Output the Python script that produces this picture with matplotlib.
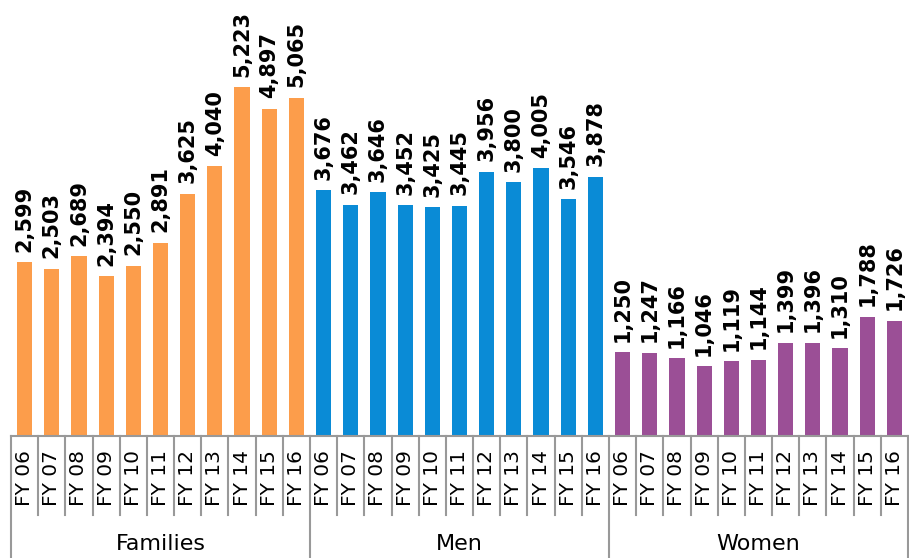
import matplotlib
matplotlib.use("Agg")
import matplotlib.pyplot as plt

groups = ["Families", "Men", "Women"]
years = ["FY 06", "FY 07", "FY 08", "FY 09", "FY 10", "FY 11", "FY 12", "FY 13", "FY 14", "FY 15", "FY 16"]
families = [2599, 2503, 2689, 2394, 2550, 2891, 3625, 4040, 5223, 4897, 5065]
men = [3676, 3462, 3646, 3452, 3425, 3445, 3956, 3800, 4005, 3546, 3878]
women = [1250, 1247, 1166, 1046, 1119, 1144, 1399, 1396, 1310, 1788, 1726]
colors = ["#FC9D4B", "#0A8BD6", "#9B4F96"]

W, H = 909, 558
fig = plt.figure(figsize=(W / 100, H / 100), dpi=100)
base_px = 436
ax = fig.add_axes([11 / W, (H - base_px) / H, 897 / W, base_px / H])

series = [families, men, women]
n = len(years)
x = 0
for gi, vals in enumerate(series):
    xs = list(range(x, x + n))
    ax.bar(xs, vals, width=0.56, color=colors[gi], edgecolor="none", zorder=2)
    for xi, v in zip(xs, vals):
        ax.annotate(f"{v:,}", (xi, v), xytext=(0, 7.5), textcoords="offset points",
                    rotation=90, ha="center", va="bottom", fontsize=15,
                    fontweight="bold", family="DejaVu Sans", color="black")
    x += n

total = n * len(series)
ax.set_xlim(-0.5, total - 0.5)
ax.set_ylim(0, 6525)
ax.set_yticks([])
ax.set_xticks([])
for s in ["top", "right", "left"]:
    ax.spines[s].set_visible(False)
ax.spines["bottom"].set_color("#999999")
ax.spines["bottom"].set_linewidth(1.5)

tr = ax.get_xaxis_transform()
row_y = -(515 - base_px) / base_px
bot_y = -(H - base_px) / base_px
lc = "#999999"
for b in range(total + 1):
    xb = b - 0.5
    if b % n == 0:
        ax.plot([xb, xb], [0, bot_y], transform=tr, color=lc, lw=1.5, clip_on=False)
    else:
        ax.plot([xb, xb], [0, row_y], transform=tr, color=lc, lw=1.5, clip_on=False)

lab_y = -(478 - base_px) / base_px
for gi in range(len(series)):
    for i, yr in enumerate(years):
        ax.text(gi * n + i, lab_y, yr, transform=tr, rotation=90, ha="center", va="center",
                fontsize=14.5, family="DejaVu Sans", color="black")
    ax.text(gi * n + (n - 1) / 2, -(544 - base_px) / base_px, groups[gi], transform=tr,
            ha="center", va="center", fontsize=16, family="DejaVu Sans", color="black")

fig.savefig("out.png", dpi=100)
